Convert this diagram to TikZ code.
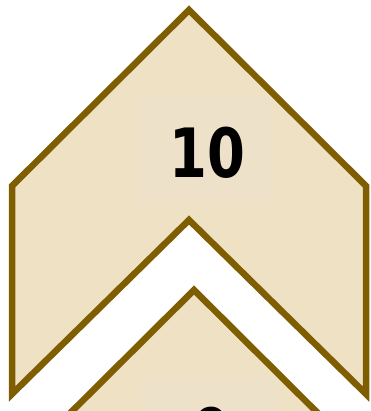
\documentclass[tikz,border=0pt]{standalone}
\usepackage{graphicx}
\usepackage{fontspec}
\setmainfont{DejaVu Sans}
\definecolor{paper}{RGB}{239,226,196}
\definecolor{patch}{RGB}{238,225,201}
\definecolor{edge}{RGB}{126,94,0}
\begin{document}
\begin{tikzpicture}[x=1pt,y=-1pt,
  chev/.style={draw=edge, fill=paper, line width=6.5pt, line join=miter},
  patchbox/.style={fill=patch, draw=none},
  num/.style={font=\bfseries\fontsize{68}{68}\selectfont, text=black, inner sep=0pt}]
\useasboundingbox (0,0) rectangle (370,411);
\clip (0,0) rectangle (370,411);
% upper chevron
\draw[chev] (189,10) -- (366,186) -- (366,394) -- (189,220) -- (12,394) -- (12,186) -- cycle;
\fill[patchbox] (137,97) rectangle (272,203);
\node[num] (ten) at (207,153) {\scalebox{0.8}[1]{10}};
% lower chevron (shifted)
\begin{scope}[shift={(5,280)}]
\draw[chev] (189,10) -- (366,186) -- (366,394) -- (189,220) -- (12,394) -- (12,186) -- cycle;
\fill[patchbox] (137,97) rectangle (272,203);
\node[num] (nine) at (207,153) {\scalebox{0.8}[1]{9}};
\end{scope}
\end{tikzpicture}
\end{document}
